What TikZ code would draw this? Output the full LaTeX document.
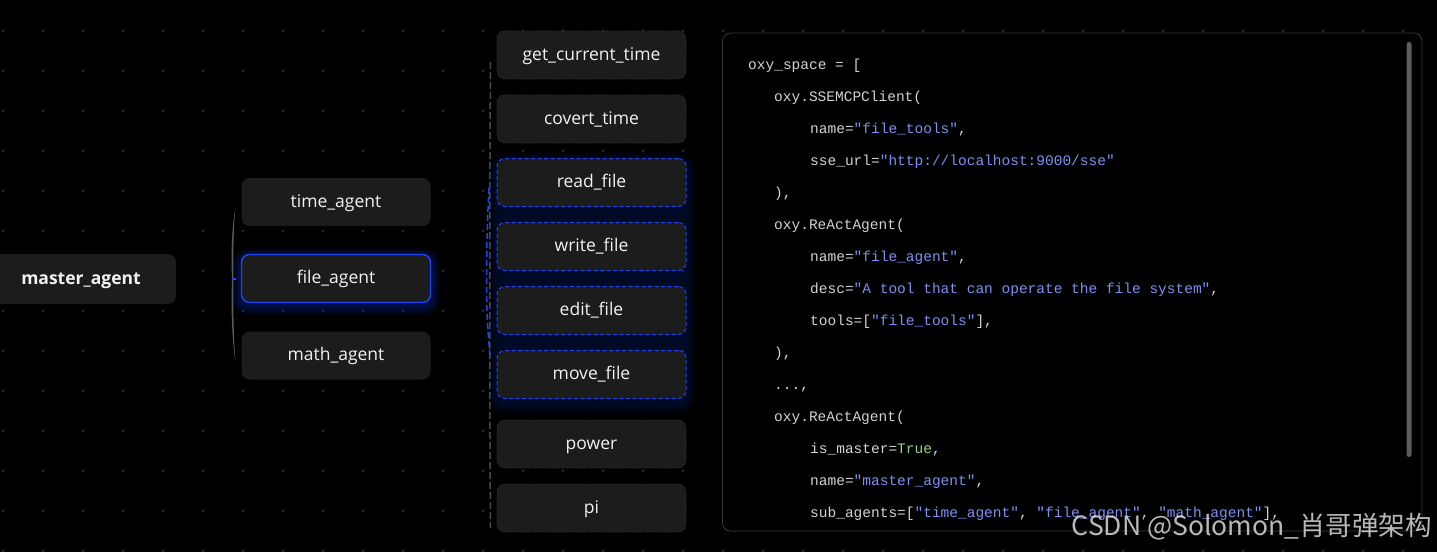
\documentclass[tikz,border=0pt]{standalone}
\usepackage{fontspec}
\setmainfont{Open Sans}
\setmonofont{Liberation Mono}
\newfontfamily\cjkfont{Noto Sans CJK SC}
\usepackage{tikz}
\usetikzlibrary{arrows.meta}

\definecolor{bgc}{HTML}{000000}
\definecolor{dotc}{HTML}{303030}
\definecolor{boxc}{HTML}{1C1C1C}
\definecolor{txtc}{HTML}{F2F2F2}
\definecolor{bluec}{HTML}{1F45F0}
\definecolor{glowc}{HTML}{0C2690}
\definecolor{edgec}{HTML}{2E2E2E}
\definecolor{brackc}{HTML}{5A5A5A}
\definecolor{dashc}{HTML}{4A4A4A}
\definecolor{codeedge}{HTML}{3A3A3A}
\definecolor{codetxt}{HTML}{D2D2D2}
\definecolor{strc}{HTML}{7F8FF2}
\definecolor{truec}{HTML}{9ACD86}
\definecolor{scrollc}{HTML}{5C5C5C}

\newcommand{\qs}[1]{\textcolor{strc}{#1}}

\begin{document}
\begin{tikzpicture}[x=1pt, y=-1pt, >=Stealth,
    every node/.style={font=\fontsize{17.5}{20}\selectfont, text=txtc},
    agentbox/.style={rounded corners=8pt, fill=boxc, minimum width=189pt, minimum height=48pt, inner sep=0pt, text height=12pt, text depth=1.5pt},
    activebox/.style={agentbox, draw=bluec, line width=1.4pt},
    toolbox/.style={agentbox, draw=edgec, dash pattern=on 2pt off 1.5pt, line width=0.8pt},
    hotbox/.style={toolbox, draw=bluec, dash pattern=on 4pt off 2.5pt, line width=1pt},
    codeline/.style={anchor=base west, inner sep=0pt, text=codetxt, font=\ttfamily\fontsize{14.5}{16}\selectfont}]
    % Fondo y limites
    \useasboundingbox (0,0) rectangle (1437,552);
    \clip (0,0) rectangle (1437,552);
    \fill[bgc] (0,0) rectangle (1437,552);

    % Rejilla de puntos
    \foreach \i in {0,...,35}
        \foreach \j in {0,...,13}
            \fill[dotc] (3+40*\i, 30.7+40*\j) circle (1.4pt);

    % Halo del agente activo
    \foreach \k in {1,...,9}
        \fill[glowc, opacity=0.07, rounded corners=8pt+\k pt] (241-\k, 257-\k) rectangle (431+\k, 306+\k);

    % Halo de las herramientas activas
    \foreach \k in {1,...,10}
        \fill[glowc, opacity=0.035, rounded corners=8pt+\k pt] (497-\k, 162-\k) rectangle (686+\k, 404+\k);

    % Agente principal
    \node[agentbox, minimum width=190pt, minimum height=50pt, font=\bfseries\fontsize{17.5}{20}\selectfont] (master) at (81,279) {master\_agent};

    % Sub-agentes
    \node[agentbox] (time) at (336,202) {time\_agent};
    \node[activebox] (file) at (336,278.5) {file\_agent};
    \node[agentbox] (math) at (336,355.5) {math\_agent};

    % Llave hacia los sub-agentes
    \coordinate (brtop) at (235.5,207);
    \coordinate (brmid) at (232,279);
    \coordinate (brbot) at (235.5,362);
    \fill[brackc] (brtop) .. controls (231.5,230) and (231,255) .. (brmid)
        .. controls (231,305) and (231.5,335) .. (brbot)
        .. controls (233.2,335) and (233.2,305) .. (233.5,279)
        .. controls (233.2,255) and (233.2,230) .. (brtop);
    \draw[bluec, line width=1.2pt] (brmid) -- ++(4,0);

    % Herramientas
    \node[toolbox] (gct) at (591.5,55) {get\_current\_time};
    \node[toolbox] (cvt) at (591.5,119) {covert\_time};
    \node[hotbox] (rdf) at (591.5,182.5) {read\_file};
    \node[hotbox] (wrf) at (591.5,246.5) {write\_file};
    \node[hotbox] (edf) at (591.5,310.5) {edit\_file};
    \node[hotbox] (mvf) at (591.5,374.5) {move\_file};
    \node[toolbox] (pow) at (591.5,444) {power};
    \node[toolbox] (pi) at (591.5,508) {pi};

    % Llaves hacia las herramientas
    \coordinate (ttop) at (490.5,62);
    \coordinate (tbot) at (490.5,528);
    \draw[dashc, line width=1.5pt, dash pattern=on 7pt off 3pt] (ttop) .. controls (489.5,200) and (489.5,400) .. (tbot);
    \coordinate (htop) at (489,188);
    \coordinate (hmid) at (486.5,283);
    \coordinate (hbot) at (490,356);
    \draw[bluec, line width=1.5pt, dash pattern=on 6pt off 3pt] (htop) .. controls (487,230) .. (hmid) .. controls (487,320) .. (hbot);

    % Panel de codigo
    \draw[codeedge, fill=black, rounded corners=8pt, line width=0.8pt] (722.5,33) rectangle (1422,531);
    \fill[scrollc, rounded corners=2.5pt] (1406.5,42) rectangle (1411.5,457);

    % Lineas de codigo
    \node[codeline] (c0) at (748,69.5) {oxy\_space = [};
    \node[codeline] (c1) at (774,101.5) {oxy.SSEMCPClient(};
    \node[codeline] (c2) at (810,133.5) {name=\qs{"file\_tools"},};
    \node[codeline] (c3) at (810,165.5) {sse\_url=\qs{"http://localhost:9000/sse"}};
    \node[codeline] (c4) at (774,197) {),};
    \node[codeline] (c5) at (774,229) {oxy.ReActAgent(};
    \node[codeline] (c6) at (810,261) {name=\qs{"file\_agent"},};
    \node[codeline] (c7) at (810,293) {desc=\qs{"A tool that can operate the file system"},};
    \node[codeline] (c8) at (810,325) {tools=[\qs{"file\_tools"}],};
    \node[codeline] (c9) at (774,357) {),};
    \node[codeline] (c10) at (774,389) {...,};
    \node[codeline] (c11) at (774,421) {oxy.ReActAgent(};
    \node[codeline] (c12) at (810,453) {is\_master=\textcolor{truec}{True},};
    \node[codeline] (c13) at (810,485) {name=\qs{"master\_agent"},};
    \node[codeline] (c14) at (810,517) {sub\_agents=[\qs{"time\_agent"}, \qs{"file\_agent"}, \qs{"math\_agent"}],};

    % Marca de agua
    \node[text=white, opacity=0.72, anchor=base east, inner sep=0pt, font=\cjkfont\fontsize{26.5}{28}\selectfont] (wm) at (1432,535) {CSDN @Solomon\_肖哥弹架构};
\end{tikzpicture}
\end{document}
